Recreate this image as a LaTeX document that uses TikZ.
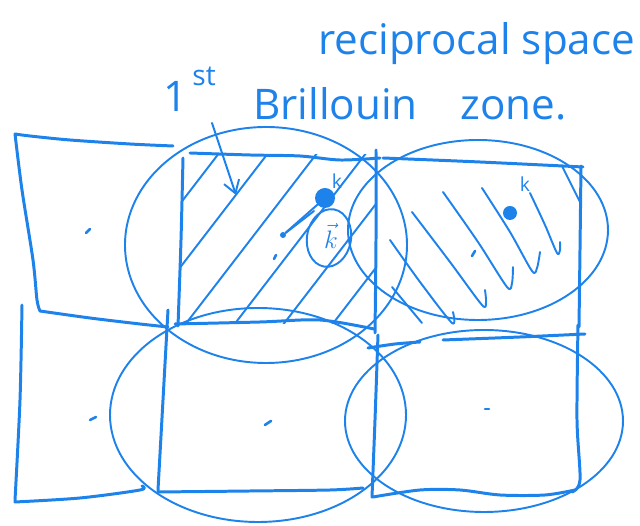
\documentclass[tikz,border=0pt]{standalone}
\usepackage{fontspec}
\setmainfont{Open Sans}
\usetikzlibrary{arrows.meta}
\definecolor{pen}{RGB}{30,130,235}
\tikzset{
  edge/.style={draw=pen, line width=1.7pt, line cap=round, line join=round},
  ring/.style={draw=pen, line width=1.1pt},
  hatch/.style={draw=pen, line width=1.1pt, line cap=round, line join=round},
  tick/.style={draw=pen, line width=1.5pt, line cap=round},
  word/.style={text=pen, inner sep=0pt, font=\fontsize{24}{28}\selectfont},
  dot/.style={circle, fill=pen, inner sep=0pt},
}
\begin{document}
\begin{tikzpicture}[x=0.02cm, y=-0.02cm]
    \useasboundingbox (0,0) rectangle (640,526);

    % Labels
    \node[word, anchor=base west] (recip) at (318,55) {reciprocal space};
    \node[word, anchor=base east] (one) at (188,112) {1};
    \node[word, anchor=base west, font=\fontsize{16}{18}\selectfont] (st) at (192,86) {st};
    \node[word, anchor=base west] (brill) at (253,120) {Brillouin};
    \node[word, anchor=base west] (zone) at (460,120) {zone.};
    \coordinate (tail) at (212,123);
    \coordinate (corner) at (236,195);
    \draw[hatch, -{Straight Barb[length=7pt, width=9pt]}] (tail) -- (corner);

    % Top row of cells
    \draw[edge] plot[smooth] coordinates {(173,146) (130,144) (70,140) (30,136) (15,134)}
      -- plot[smooth] coordinates {(15,134) (22,190) (33,260) (37,300) (40,311)}
      -- plot[smooth] coordinates {(40,311) (90,318) (140,324) (168,327)};
    \draw[edge] plot[smooth] coordinates {(190,153) (250,155) (300,156) (340,160) (380,158)};
    \draw[edge] plot[smooth] coordinates {(183,158) (181,240) (178,326)};
    \draw[edge] plot[smooth] coordinates {(175,324) (260,322) (320,320) (374,329)};
    \draw[edge] plot[smooth] coordinates {(376,150) (376,240) (375,333)};
    \draw[edge] plot[smooth] coordinates {(383,158) (480,162) (583,167)};
    \draw[edge] plot[smooth] coordinates {(581,166) (580,250) (579,327)};
    \draw[hatch] (562,166) -- (580,202);

    % Bottom row of cells
    \draw[edge] plot[smooth] coordinates {(22,305) (20,400) (15,500)}
      -- plot[smooth] coordinates {(15,502) (80,498) (140,490) (142,486)};
    \draw[edge] plot[smooth] coordinates {(168,310) (163,400) (158,490)}
      -- plot[smooth] coordinates {(158,492) (250,491) (330,490) (363,488)};
    \draw[edge] plot[smooth] coordinates {(368,348) (395,344) (420,342)};
    \draw[edge] plot[smooth] coordinates {(443,340) (520,337) (585,334)};
    \draw[edge] plot[smooth] coordinates {(378,335) (375,420) (372,497)}
      -- plot[smooth] coordinates {(373,497) (420,490) (460,490) (500,495) (545,495) (575,490)};
    \draw[edge] plot[smooth] coordinates {(578,325) (577,420) (580,480) (572,492)};

    % Ellipses round the cells
    \draw[ring] (266,245) ellipse [x radius=141, y radius=118];
    \draw[ring] (478,230) ellipse [x radius=130, y radius=90];
    \draw[ring] (258,415) ellipse [x radius=148, y radius=107];
    \draw[ring] (484,421) ellipse [x radius=139, y radius=91];

    % Hatching of the 1st zone
    \begin{scope}
      \clip (181,155) rectangle (376,324);
      \foreach \b in {83,132,181,230,279,328}
        \draw[hatch] (\b,330) -- ++(140,-182);
    \end{scope}

    % Hatching of the next cell
    \draw[hatch] plot[smooth] coordinates {(390,240) (420,282) (452,323) (453,312)};
    \draw[hatch] plot[smooth] coordinates {(412,212) (450,262) (482,305) (486,302) (485,290)};
    \draw[hatch] plot[smooth] coordinates {(443,192) (478,242) (507,287) (512,283) (513,267)};
    \draw[hatch] plot[smooth] coordinates {(482,188) (510,232) (532,271) (537,268) (540,252)};
    \draw[hatch] plot[smooth] coordinates {(530,193) (545,225) (557,253) (560,250) (560,242)};
    \draw[hatch] (392,287) -- (422,323);

    % Points and wave vector
    \node[dot, minimum size=20*0.02cm] (kpt) at (325,198) {};
    \node[dot, minimum size=6*0.02cm] (origin) at (283,235) {};
    \draw[hatch] (origin) -- (kpt);
    \draw[hatch] (origin) -- (314,211);
    \node[word, font=\fontsize{11}{12}\selectfont] (klab) at (337,181) {k};
    \draw[ring, rotate around={-10:(329,238)}] (329,238) ellipse [x radius=22, y radius=29];
    \node[word, font=\fontsize{15}{17}\selectfont] (kvec) at (331,236) {$\vec{k}$};
    \node[dot, minimum width=14*0.02cm, minimum height=14*0.02cm] (kpt2) at (510,213) {};
    \node[word, font=\fontsize{11}{12}\selectfont] (klab2) at (525,184) {k};

    % Centre marks
    \draw[tick] (86,233) -- (90,229);
    \draw[tick] (90,420) -- (96,417);
    \draw[tick] (265,425) -- (271,421);
    \draw[tick] (485,409) -- (489,409);
    \draw[tick] (274,259) -- (276,255);
    \draw[tick] (472,256) -- (475,251);
\end{tikzpicture}
\end{document}
